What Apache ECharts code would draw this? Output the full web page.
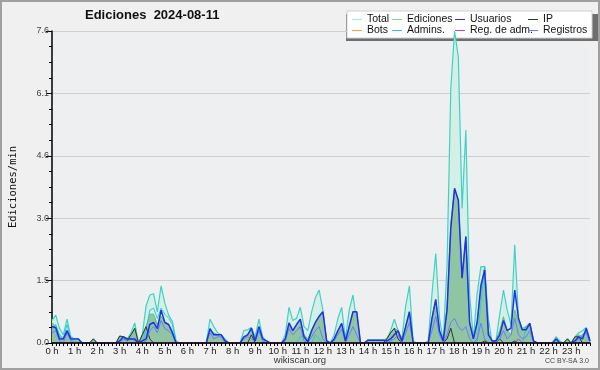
<!DOCTYPE html>
<html>
<head>
<meta charset="utf-8">
<script src="https://cdn.jsdelivr.net/npm/echarts@6/dist/echarts.min.js"></script>
<style>
  html, body { margin: 0; padding: 0; background: #f0f0f0; }
  #chart { width: 600px; height: 370px; }
</style>
</head>
<body>
<div id="chart"></div>
<script>
  // one value every 10 minutes, 0:00 .. 23:50 (ediciones/min)
  const total = [
    0.55, 0.68, 0.35, 0.2, 0.58, 0.15, 0.1, 0.1, 0, 0, 0, 0.1,
    0, 0, 0, 0, 0, 0, 0.17, 0.15, 0.1, 0.25, 0.49, 0,
    0.2, 0.9, 1.17, 1.2, 0.76, 1.39, 0.97, 0.68, 0.52, 0.05, 0, 0,
    0, 0, 0, 0, 0, 0, 0.58, 0.4, 0.25, 0.2, 0.1, 0,
    0, 0, 0, 0.3, 0.32, 0.38, 0.15, 0.58, 0.15, 0.05, 0, 0,
    0, 0, 0.2, 0.87, 0.55, 0.6, 0.87, 0.4, 0.3, 0.75, 1.1, 1.29,
    0.8, 0.05, 0, 0.2, 0.6, 0.87, 0.1, 0.8, 1.17, 0.5, 0, 0,
    0.07, 0.07, 0.07, 0.07, 0.07, 0.1, 0.3, 0.58, 0.3, 0.1, 0.9, 1.39,
    0.05, 0, 0, 0, 0.05, 1.2, 2.18, 0.6, 0.05, 1.9, 6.2, 7.6,
    6.97, 3.28, 5.19, 1.2, 0.1, 1.2, 1.86, 1.86, 0.3, 0.05, 0.05, 0.7,
    1.29, 0.8, 0.44, 2.39, 0.6, 0.35, 0.4, 0.48, 0.05, 0, 0, 0,
    0, 0, 0.15, 0.05, 0, 0.1, 0, 0.15, 0.25, 0.3, 0.38, 0.05
  ];
  const ediciones = [
    0.5, 0.4, 0.2, 0.1, 0.3, 0.1, 0.05, 0.05, 0, 0, 0, 0.1,
    0, 0, 0, 0, 0, 0, 0.15, 0.15, 0.1, 0.2, 0.36, 0,
    0.15, 0.4, 0.7, 0.7, 0.45, 0.65, 0.5, 0.45, 0.3, 0.02, 0, 0,
    0, 0, 0, 0, 0, 0, 0.3, 0.25, 0.2, 0.15, 0.05, 0,
    0, 0, 0, 0.15, 0.2, 0.35, 0.1, 0.3, 0.1, 0.05, 0, 0,
    0, 0, 0.1, 0.45, 0.3, 0.45, 0.55, 0.2, 0.1, 0.3, 0.5, 0.65,
    0.76, 0.05, 0, 0.1, 0.3, 0.48, 0.05, 0.4, 0.76, 0.76, 0, 0,
    0.07, 0.07, 0.07, 0.07, 0.07, 0.1, 0.25, 0.36, 0.3, 0.05, 0.4, 0.76,
    0, 0, 0, 0, 0, 0.6, 1.06, 0.3, 0.05, 0.9, 2.9, 3.75,
    3.5, 1.6, 2.6, 0.5, 0.1, 0.5, 1.3, 1.86, 0.2, 0.05, 0.05, 0.3,
    0.64, 0.3, 0.2, 0.8, 0.5, 0.3, 0.4, 0.48, 0.05, 0, 0, 0,
    0, 0, 0.1, 0, 0, 0.1, 0, 0.15, 0.2, 0.15, 0.3, 0.05
  ];
  const usuarios = [
    0.4, 0.37, 0.1, 0.1, 0.3, 0.1, 0.1, 0.1, 0, 0, 0, 0,
    0, 0, 0, 0, 0, 0, 0.05, 0.15, 0.1, 0.1, 0.1, 0,
    0.05, 0.1, 0.45, 0.5, 0.35, 0.8, 0.5, 0.45, 0.25, 0, 0, 0,
    0, 0, 0, 0, 0, 0, 0.35, 0.2, 0.2, 0.2, 0.05, 0,
    0, 0, 0, 0.15, 0.2, 0.36, 0.05, 0.4, 0.1, 0.05, 0, 0,
    0, 0, 0.1, 0.49, 0.3, 0.45, 0.58, 0.15, 0.03, 0.3, 0.5, 0.65,
    0.76, 0.05, 0, 0.1, 0.3, 0.48, 0.05, 0.4, 0.76, 0.76, 0, 0,
    0.07, 0.07, 0.07, 0.07, 0.07, 0.05, 0.1, 0.2, 0.3, 0.05, 0.4, 0.76,
    0, 0, 0, 0, 0, 0.6, 1.06, 0.3, 0.05, 0.8, 2.8, 3.77,
    3.48, 1.58, 2.59, 0.5, 0.1, 0.5, 1.4, 1.78, 0.2, 0.05, 0.05, 0.2,
    0.55, 0.3, 0.36, 1.29, 0.6, 0.32, 0.32, 0.48, 0.05, 0, 0, 0,
    0, 0, 0.1, 0, 0, 0, 0, 0.05, 0.15, 0.1, 0.36, 0.05
  ];
  const ip = [
    0, 0, 0, 0, 0, 0, 0, 0, 0, 0, 0, 0.1,
    0, 0, 0, 0, 0, 0, 0.17, 0.15, 0.05, 0.2, 0.36, 0,
    0.2, 0.4, 0.1, 0, 0, 0, 0, 0, 0, 0, 0, 0,
    0, 0, 0, 0, 0, 0, 0, 0, 0, 0, 0, 0,
    0, 0, 0, 0, 0, 0.2, 0, 0, 0, 0, 0, 0,
    0, 0, 0, 0, 0, 0, 0, 0, 0, 0, 0, 0,
    0, 0, 0, 0, 0, 0, 0, 0, 0, 0, 0, 0,
    0, 0, 0, 0, 0, 0.1, 0.25, 0.36, 0.1, 0, 0, 0,
    0, 0, 0, 0, 0, 0, 0, 0, 0, 0.1, 0.36, 0,
    0, 0, 0, 0, 0, 0, 0, 0.05, 0, 0, 0, 0.1,
    0, 0, 0, 0.05, 0, 0, 0, 0, 0, 0, 0, 0,
    0, 0, 0, 0, 0, 0.1, 0, 0.15, 0.15, 0, 0, 0
  ];
  const bots = new Array(144).fill(0);
  const admins = [
    0.3, 0.45, 0.2, 0.1, 0.45, 0.1, 0, 0, 0, 0, 0, 0,
    0, 0, 0, 0, 0, 0, 0, 0, 0, 0, 0, 0,
    0, 0.3, 0.8, 0.85, 0.6, 0.85, 0.7, 0.6, 0.45, 0, 0, 0,
    0, 0, 0, 0, 0, 0, 0, 0, 0, 0, 0, 0,
    0, 0, 0, 0, 0, 0, 0, 0, 0, 0, 0, 0,
    0, 0, 0, 0, 0, 0, 0.15, 0.2, 0, 0, 0.2, 0.1,
    0, 0, 0, 0, 0, 0, 0, 0, 0, 0, 0, 0,
    0, 0, 0, 0, 0, 0, 0, 0, 0, 0, 0, 0,
    0, 0, 0, 0, 0, 0, 0, 0, 0, 0, 0, 0,
    0, 0, 0, 0, 0, 0, 1.0, 1.86, 0.6, 0, 0, 0,
    0, 0, 0, 0, 0, 0, 0.35, 0.45, 0.05, 0, 0, 0,
    0, 0, 0.15, 0, 0, 0, 0, 0, 0, 0.2, 0.3, 0
  ];
  const regAdm = [
    0, 0, 0, 0, 0, 0, 0, 0, 0, 0, 0, 0,
    0, 0, 0, 0, 0, 0, 0, 0, 0, 0, 0, 0,
    0, 0, 0, 0, 0, 0, 0, 0, 0, 0, 0, 0,
    0, 0, 0, 0, 0, 0, 0, 0, 0, 0, 0, 0,
    0, 0, 0, 0, 0, 0, 0, 0, 0, 0, 0, 0,
    0, 0, 0, 0, 0, 0, 0, 0, 0, 0, 0, 0,
    0, 0, 0, 0, 0, 0, 0, 0, 0, 0, 0, 0,
    0, 0, 0, 0, 0, 0, 0, 0, 0, 0, 0, 0,
    0, 0, 0, 0, 0, 0, 0, 0, 0, 0, 0, 0,
    0, 0, 0, 0, 0, 0, 0, 0, 0, 0, 0, 0,
    0, 0, 0, 0, 0.1, 0, 0, 0, 0, 0, 0, 0,
    0, 0, 0, 0, 0, 0, 0, 0, 0, 0, 0, 0
  ];
  const registros = [
    0.25, 0.3, 0.05, 0, 0.25, 0.05, 0, 0, 0, 0, 0, 0,
    0, 0, 0, 0, 0, 0, 0, 0.1, 0.05, 0.1, 0.05, 0,
    0, 0.05, 0.3, 0.4, 0.25, 0.55, 0.35, 0.3, 0.2, 0, 0, 0,
    0, 0, 0, 0, 0, 0, 0.25, 0.1, 0.15, 0.15, 0, 0,
    0, 0, 0, 0.1, 0.15, 0.1, 0.05, 0.3, 0.05, 0, 0, 0,
    0, 0, 0.05, 0.35, 0.2, 0.3, 0.4, 0.05, 0, 0.15, 0.3, 0.4,
    0.1, 0, 0, 0.05, 0.2, 0.35, 0, 0.2, 0.4, 0.2, 0, 0,
    0, 0, 0, 0, 0, 0, 0.05, 0.1, 0.2, 0, 0.25, 0.5,
    0, 0, 0, 0, 0, 0.3, 0.65, 0.2, 0, 0.2, 0.5, 0.6,
    0.4, 0.3, 0.4, 0.1, 0, 0.1, 0.48, 0.1, 0, 0, 0, 0.1,
    0.3, 0.1, 0.2, 0.6, 0.2, 0.1, 0.15, 0.3, 0, 0, 0, 0,
    0, 0, 0.1, 0, 0, 0, 0, 0, 0.1, 0.2, 0.25, 0
  ];

  const pts = (arr) => arr.map((v, i) => [i, v]);
  const lineSeries = (name, arr, color, z, width) => ({
    name, type: 'line', data: pts(arr), symbol: 'none', z,
    lineStyle: { color, width: width || 1 }, itemStyle: { color },
    emphasis: { disabled: true }
  });

  const chart = echarts.init(document.getElementById('chart'));

  // the legend is laid out as 4 columns of 2 rows
  const legendCol = (left, names) => ({
    left, top: 14, orient: 'vertical', data: names, itemGap: 0,
    icon: 'rect', itemWidth: 10, itemHeight: 1,
    textStyle: { fontSize: 10.5, color: '#111', fontFamily: 'Liberation Sans', lineHeight: 10 },
    selectedMode: false, padding: 0
  });

  chart.setOption({
    backgroundColor: '#f0f0f0',
    animation: false,
    grid: { left: 46, right: 10, top: 31, bottom: 27, show: true, backgroundColor: '#eeeff1', borderWidth: 0 },
    legend: [
      legendCol(352, ['Total', 'Bots']),
      legendCol(392, ['Ediciones', 'Admins.']),
      legendCol(455, ['Usuarios', 'Reg. de adm.']),
      legendCol(528, ['IP', 'Registros'])
    ],
    xAxis: {
      type: 'value', min: 0, max: 143, interval: 6, z: 10,
      axisLine: { lineStyle: { color: '#000', width: 1.5 } },
      axisTick: { length: 3, lineStyle: { color: '#000' } },
      minorTick: { show: true, splitNumber: 6, length: 3, lineStyle: { color: '#000' } },
      splitLine: { show: false },
      axisLabel: {
        margin: 3, fontSize: 9.5, color: '#222', fontFamily: 'Liberation Sans',
        showMaxLabel: false,
        formatter: (v) => (v / 6) + ' h'
      }
    },
    yAxis: {
      type: 'value', min: 0, max: 7.6, interval: 1.52,
      name: 'Ediciones/min', nameLocation: 'middle', nameGap: 33,
      nameTextStyle: { fontSize: 10.5, color: '#111', fontFamily: 'DejaVu Sans Mono' },
      axisLine: { show: true, lineStyle: { color: '#000', width: 1.5 } },
      axisTick: { show: true, length: 6, lineStyle: { color: '#000' } },
      minorTick: { show: true, splitNumber: 4, length: 3, lineStyle: { color: '#000' } },
      splitLine: { lineStyle: { color: '#cfcfcf' } },
      axisLabel: {
        margin: 3, fontSize: 9, color: '#444', fontFamily: 'Liberation Sans',
        formatter: (v) => v.toFixed(1)
      }
    },
    series: [
      Object.assign(lineSeries('Total', total, '#3fd2c2', 2, 1.2), {
        areaStyle: { color: '#d3efe8', opacity: 1 }, itemStyle: { color: '#a9e9dc' }
      }),
      Object.assign(lineSeries('Ediciones', ediciones, '#5fbf6f', 3, 1), {
        areaStyle: { color: '#8fc5a3', opacity: 1 }, itemStyle: { color: '#88d488' }
      }),
      lineSeries('Admins.', admins, '#38c4d8', 4, 1),
      lineSeries('IP', ip, '#333333', 5, 1),
      lineSeries('Registros', registros, '#6b7bff', 6, 1),
      lineSeries('Usuarios', usuarios, '#2030e6', 7, 1.5),
      lineSeries('Bots', bots, '#ffa030', 8, 1),
      lineSeries('Reg. de adm.', regAdm, '#c040e0', 9, 1)
    ],
    graphic: [
      { type: 'rect', silent: true, z: 100, shape: { x: 1, y: 1, width: 598, height: 368 },
        style: { fill: null, stroke: '#a0a0a0', lineWidth: 2 } },
      { type: 'text', silent: true, left: 85, top: 9,
        style: { text: 'Ediciones  2024-08-11', font: 'bold 13px "Liberation Sans"', fill: '#111' } },
      { type: 'rect', silent: true, z: 0, shape: { x: 346, y: 14, width: 252, height: 27 },
        style: { fill: '#6e6e6e' } },
      { type: 'rect', silent: true, z: 1, shape: { x: 347, y: 11, width: 245, height: 27 },
        style: { fill: '#ffffff', stroke: '#d0d0d0', lineWidth: 1 } },
      { type: 'text', silent: true, left: 'center', top: 355,
        style: { text: 'wikiscan.org', font: '9.5px "Liberation Sans"', fill: '#333' } },
      { type: 'text', silent: true, right: 11, top: 358,
        style: { text: 'CC BY-SA 3.0', font: '7px "Liberation Sans"', fill: '#444' } }
    ]
  });
</script>
</body>
</html>
